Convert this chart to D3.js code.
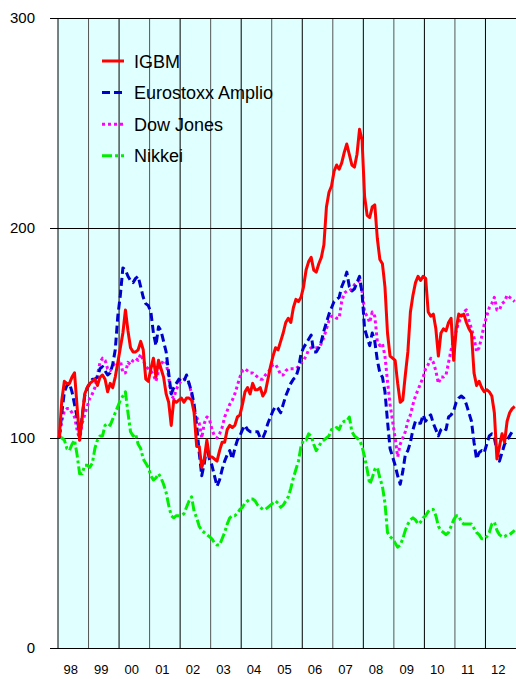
<!DOCTYPE html>
<html>
<head>
<meta charset="utf-8">
<script src="https://cdn.jsdelivr.net/npm/d3@7"></script>
<style>
  html, body { margin: 0; padding: 0; background: #ffffff; }
  svg { display: block; }
  text { font-family: "Liberation Sans", Arial, sans-serif; fill: #000; }
</style>
</head>
<body>
<svg id="chart" width="516" height="679"></svg>
<script>
// ---- Data (monthly, Jan 1998 - Dec 2012, base 100) ----
const years = ["98","99","00","01","02","03","04","05","06","07","08","09","10","11","12"];
const yTicks = [0, 100, 200, 300];
const seriesNames = ["IGBM", "Eurostoxx Amplio", "Dow Jones", "Nikkei"];

const igbm = [
100,118,127,126,126,129,131,115,99,110,121,124,
126,127,128,125,129,130,128,122,126,124,129,136,
143,150,161,151,143,141,141,142,146,142,128,127,
133,138,129,137,133,129,121,117,106,118,117,118,
119,117,119,119,118,112,96,96,86,90,99,91,
91,90,89,94,98,98,104,106,105,106,110,111,
116,122,124,121,126,123,123,124,120,122,128,134,
139,143,142,146,150,155,157,155,162,166,165,167,
172,180,184,186,180,179,183,186,192,210,217,220,
227,230,228,231,236,240,235,230,229,235,247,242,
215,206,205,210,211,195,185,183,172,150,139,138,
137,126,117,118,130,141,160,168,174,177,175,177,
176,160,158,159,152,139,150,152,151,155,157,137,
152,159,158,159,155,152,150,131,125,127,124,122,
123,122,120,112,90,96,102,98,108,112,114,115
];

const eurostoxx = [
100,112,122,125,126,122,116,110,101,110,120,124,
126,128,128,129,133,134,132,130,131,135,142,158,
168,181,180,177,175,174,176,177,172,167,164,163,
160,150,144,153,151,146,141,131,121,124,126,128,
127,127,130,126,122,116,106,93,82,88,96,90,
87,82,77,80,85,89,92,94,90,95,99,101,
104,106,104,103,103,103,103,100,100,103,107,110,
113,115,114,112,116,120,123,126,128,129,133,140,
143,145,147,149,141,141,143,146,151,155,159,162,
165,166,167,172,175,179,172,170,171,174,177,169,
152,148,144,150,146,137,131,129,122,108,95,91,
87,82,78,84,92,94,98,104,108,107,107,111,
108,110,111,107,104,101,104,105,104,110,111,113,
117,119,120,119,116,112,108,98,90,93,94,93,
97,101,102,100,94,89,93,97,99,101,103,104
];

const dowJones = [
100,108,113,114,114,112,110,104,99,107,111,115,
119,121,124,130,136,138,137,133,132,134,136,136,
137,131,131,136,135,137,138,137,140,137,134,133,
132,130,127,132,135,137,136,129,120,119,123,126,
127,128,127,126,121,113,110,107,100,107,110,109,
104,101,100,102,105,110,113,116,118,121,125,129,
132,133,132,131,131,130,129,128,128,130,131,133,
135,135,133,130,130,132,133,133,133,133,134,136,
137,139,142,143,143,143,143,145,148,152,156,158,
158,157,157,165,169,170,170,171,173,174,175,170,
160,158,155,160,158,146,144,145,139,127,116,108,
100,91,97,100,103,108,111,116,120,123,126,129,
133,135,138,136,132,126,129,129,130,136,142,147,
151,155,158,160,161,156,152,148,141,143,148,154,
158,162,164,167,161,161,164,165,168,167,166,165
];

const nikkei = [
101,100,99,95,94,97,99,92,83,83,87,87,
86,88,95,99,101,101,106,107,106,109,112,115,
118,120,122,112,103,101,102,97,95,90,88,86,
82,80,81,83,81,78,74,68,63,62,63,63,
63,64,67,70,72,65,62,58,56,55,54,53,
52,50,49,49,52,55,59,62,63,63,64,66,
67,69,70,71,71,70,68,67,66,66,67,68,
69,70,69,67,68,70,72,76,81,85,89,96,
99,99,102,101,97,94,96,98,99,100,101,104,
104,105,104,107,108,108,110,103,101,100,99,96,
91,85,78,81,85,86,81,77,69,55,53,52,
50,48,49,52,56,59,61,62,61,59,60,62,
63,65,66,66,63,58,56,55,54,55,58,61,
63,63,60,59,59,59,59,57,55,54,52,52,
53,55,59,60,56,54,53,53,54,54,55,56
];

const colors = ["#FF0000", "#0000CC", "#FF00FF", "#00EE00"];
const dashes = [null, "8,4", "3,3", "10,3,3,3"];

// ---- Layout ----
const svg = d3.select("#chart");
const plotL = 58, plotR = 516, plotT = 18, plotB = 648;
const nMonths = years.length * 12;

const x = d3.scaleLinear().domain([0, nMonths]).range([plotL, plotR]);
const y = d3.scaleLinear().domain([0, 300]).range([plotB, plotT]);

// background
svg.append("rect")
  .attr("x", plotL).attr("y", plotT)
  .attr("width", plotR - plotL).attr("height", plotB - plotT)
  .attr("fill", "#E0FFFF");

// vertical year separators
svg.append("g").selectAll("line")
  .data(d3.range(0, years.length))
  .join("line")
  .attr("x1", (d) => x(d * 12)).attr("x2", (d) => x(d * 12))
  .attr("y1", plotT).attr("y2", plotB)
  .attr("stroke", (d) => d % 2 === 0 ? "#000" : "#555")
  .attr("stroke-width", 1);

// horizontal gridlines + y axis ticks
const yAxis = d3.axisLeft(y).tickValues(yTicks).tickSize(plotR - plotL + 8).tickPadding(15).tickFormat(d3.format("d"));
const gy = svg.append("g")
  .attr("transform", `translate(${plotR},0)`)
  .call(yAxis);
gy.select(".domain").remove();
gy.selectAll(".tick line").attr("stroke", "#000").attr("stroke-width", 1);
gy.selectAll(".tick text")
  .attr("font-size", 15)
  .attr("font-family", "Liberation Sans, Arial, sans-serif")
  .attr("fill", "#000");

// x axis labels (years)
const xAxis = d3.axisBottom(x)
  .tickValues(d3.range(0, years.length).map((d) => d * 12 + 6))
  .tickSize(0).tickPadding(17)
  .tickFormat((d, i) => years[i]);
const gx = svg.append("g")
  .attr("transform", `translate(-3,${plotB})`)
  .call(xAxis);
gx.select(".domain").remove();
gx.selectAll(".tick text")
  .attr("font-size", 13)
  .attr("font-family", "Liberation Sans, Arial, sans-serif")
  .attr("fill", "#000");

// series lines
const allSeries = [igbm, eurostoxx, dowJones, nikkei];
const line = d3.line()
  .x((d, i) => x(i + 0.5))
  .y((d) => y(d));

const drawOrder = [3, 2, 1, 0];
drawOrder.forEach((k) => {
  svg.append("path")
    .datum(allSeries[k])
    .attr("fill", "none")
    .attr("stroke", colors[k])
    .attr("stroke-width", 3)
    .attr("stroke-dasharray", dashes[k])
    .attr("stroke-linejoin", "round")
    .attr("d", line);
});

// legend
const legend = svg.append("g");
seriesNames.forEach((name, k) => {
  const ly = 61 + k * 31.6;
  legend.append("line")
    .attr("x1", 102).attr("x2", 124)
    .attr("y1", ly).attr("y2", ly)
    .attr("stroke", colors[k])
    .attr("stroke-width", 3)
    .attr("stroke-dasharray", dashes[k]);
  legend.append("text")
    .attr("x", 134).attr("y", ly + 6.5)
    .attr("font-size", 18)
    .text(name);
});
</script>
</body>
</html>
